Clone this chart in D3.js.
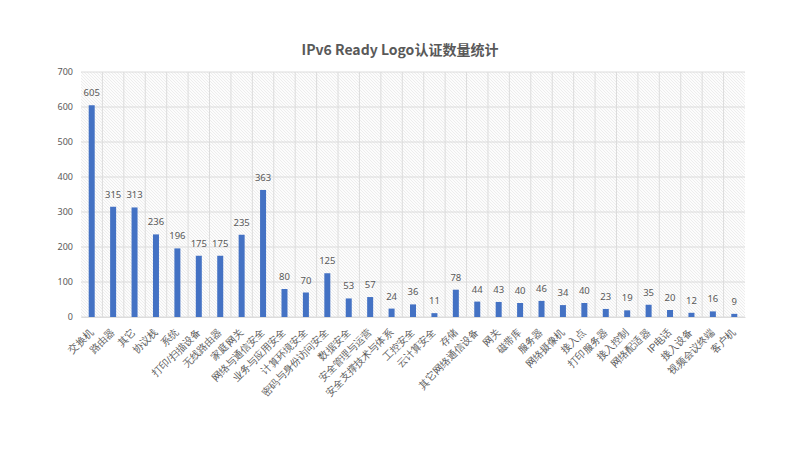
<!DOCTYPE html>
<html><head><meta charset="utf-8">
<script src="https://cdn.jsdelivr.net/npm/d3@7"></script>
<style>body{margin:0;background:#fff;}svg{display:block;font-family:"Noto Sans CJK SC","Noto Sans",sans-serif;}</style>
</head><body>
<svg id="c" width="800" height="450"></svg>
<script>
const categories = ["交换机","路由器","其它","协议栈","系统","打印/扫描设备","无线路由器","家庭网关","网络与通信安全","业务与应用安全","计算环境安全","密码与身份访问安全","数据安全","安全管理与运营","安全支撑技术与体系","工控安全","云计算安全","存储","其它网络通信设备","网关","磁带库","服务器","网络摄像机","接入点","打印服务器","接入控制","网络配适器","IP电话","接入设备","视频会议终端","客户机"];
const values = [605,315,313,236,196,175,175,235,363,80,70,125,53,57,24,36,11,78,44,43,40,46,34,40,23,19,35,20,12,16,9];
const yTicks = [0,100,200,300,400,500,600,700];
const title = "IPv6 Ready Logo认证数量统计";

const svg = d3.select("#c");
const m = {l:81, r:745, t:72, b:317};
const x = d3.scaleBand().domain(categories).range([m.l, m.r]).paddingInner(0).paddingOuter(0);
const y = d3.scaleLinear().domain([0,700]).range([m.b, m.t]);

const defs = svg.append("defs");
const pat = defs.append("pattern").attr("id","hatch").attr("patternUnits","userSpaceOnUse").attr("width",3).attr("height",3);
pat.append("rect").attr("width",3).attr("height",3).attr("fill","#fcfcfc");
pat.append("path").attr("d","M-1,-1 L4,4 M-1,2 L1,4 M2,-1 L4,1").attr("stroke","#e6e6e6").attr("stroke-width",0.7);

svg.append("rect").attr("x",m.l).attr("y",m.t).attr("width",m.r-m.l).attr("height",m.b-m.t).attr("fill","url(#hatch)");

// gridlines
svg.append("g").selectAll("line").data(yTicks).join("line")
  .attr("x1",m.l).attr("x2",m.r).attr("y1",d=>y(d)).attr("y2",d=>y(d))
  .attr("stroke","#dcdcdc").attr("stroke-width",1);
svg.append("g").selectAll("line").data(categories.slice(1)).join("line")
  .attr("x1",d=>x(d)).attr("x2",d=>x(d)).attr("y1",m.t).attr("y2",m.b)
  .attr("stroke","#dcdcdc").attr("stroke-width",1);

// y axis
const ya = svg.append("g").attr("transform",`translate(${m.l},0)`).call(d3.axisLeft(y).tickValues(yTicks).tickSize(0).tickPadding(8));
ya.select(".domain").remove();
ya.selectAll("text").attr("fill","#595959").style("font-size","9px").style("font-family","'Noto Sans','DejaVu Sans',sans-serif");

// bars
const bw = 6;
svg.append("g").selectAll("rect").data(values).join("rect")
  .attr("x",(d,i)=>x(categories[i])+x.bandwidth()/2-bw/2)
  .attr("y",d=>y(d)).attr("width",bw).attr("height",d=>y(0)-y(d))
  .attr("fill","#4472c4");

// value labels
svg.append("g").selectAll("text").data(values).join("text")
  .attr("x",(d,i)=>x(categories[i])+x.bandwidth()/2)
  .attr("y",d=>y(d)-9).attr("text-anchor","middle")
  .attr("fill","#595959").style("font-size","9.5px").style("font-family","'Noto Sans','DejaVu Sans',sans-serif")
  .text(d=>d);

// x axis labels
const xa = svg.append("g").attr("transform",`translate(0,${m.b})`).call(d3.axisBottom(x).tickSize(0).tickPadding(0));
xa.select(".domain").attr("stroke","#dcdcdc");
xa.selectAll("text").attr("fill","#595959").style("font-size","10px")
  .attr("text-anchor","end").attr("dy","0").attr("y",0)
  .attr("transform","translate(2,16) rotate(-45)");

// title
svg.append("text").attr("x",400).attr("y",55).attr("text-anchor","middle")
  .attr("fill","#595959").style("font-size","14px").style("font-weight","bold")
  .text(title);
</script>
</body></html>
